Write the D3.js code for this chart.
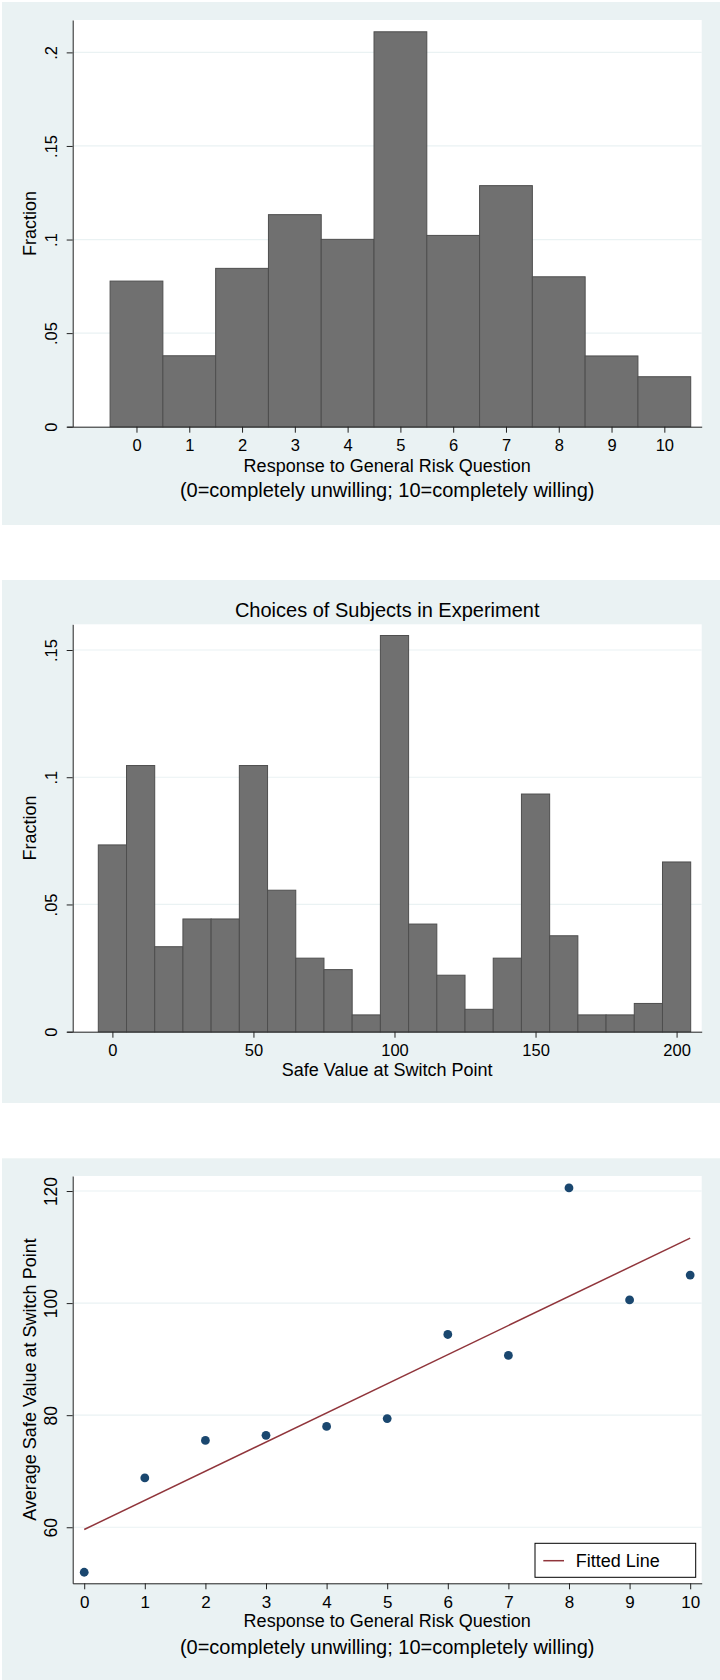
<!DOCTYPE html>
<html>
<head>
<meta charset="utf-8">
<script src="https://cdn.jsdelivr.net/npm/d3@7"></script>
<style>
  body { margin: 0; background: #fff; }
  svg { display: block; font-family: "Liberation Sans", Arial, Helvetica, sans-serif; }
</style>
</head>
<body>
<div id="chart"></div>
<script>
const riskValues = [0, 1, 2, 3, 4, 5, 6, 7, 8, 9, 10];
const riskFractions = [0.0778, 0.0379, 0.0846, 0.1133, 0.1001, 0.2110, 0.1022, 0.1288, 0.0801, 0.0378, 0.0267];

const safeBins = [0, 10, 20, 30, 40, 50, 60, 70, 80, 90, 100, 110, 120, 130, 140, 150, 160, 170, 180, 190, 200];
const safeFractions = [0.0734, 0.1046, 0.0334, 0.0443, 0.0443, 0.1046, 0.0556, 0.0289, 0.0244, 0.0066, 0.1557,
    0.0423, 0.0222, 0.0088, 0.0289, 0.0934, 0.0377, 0.0066, 0.0066, 0.0111, 0.0667];

const avgSafeValues = [51.97, 68.8, 75.5, 76.4, 78.0, 79.4, 94.4, 90.66, 120.56, 100.56, 105.0];
const fittedX = [0, 10];
const fittedY = [59.6, 111.6];

const fracTicks1 = [0, 0.05, 0.1, 0.15, 0.2];
const fracLabels1 = ["0", ".05", ".1", ".15", ".2"];
const fracTicks2 = [0, 0.05, 0.1, 0.15];
const fracLabels2 = ["0", ".05", ".1", ".15"];
const safeTicks = [0, 50, 100, 150, 200];
const avgTicks = [60, 80, 100, 120];

const riskTitle = "Response to General Risk Question";
const riskNote = "(0=completely unwilling; 10=completely willing)";

const width = 720;
const height = 1680;
const bg = "#eaf2f3";
const barFill = "#707070";
const barStroke = "#4e4e4e";
const axisColor = "#222";

const svg = d3.select("#chart")
    .append("svg")
    .attr("width", width)
    .attr("height", height);

function panel(y0, y1) {
    svg.append("rect")
        .attr("x", 2).attr("y", y0)
        .attr("width", width - 2).attr("height", y1 - y0)
        .attr("fill", bg);
}

function plotArea(xLeft, xRight, yTop, yBottom) {
    svg.append("rect")
        .attr("x", xLeft).attr("y", yTop)
        .attr("width", xRight - xLeft).attr("height", yBottom - yTop)
        .attr("fill", "#fff");
}

function gridLines(yScale, ticks, xLeft, xRight) {
    svg.append("g")
        .selectAll("line")
        .data(ticks.filter((d) => d !== yScale.domain()[0]))
        .enter()
        .append("line")
        .attr("x1", xLeft).attr("x2", xRight)
        .attr("y1", (d) => yScale(d)).attr("y2", (d) => yScale(d))
        .attr("stroke", bg)
        .attr("stroke-width", 1.2);
}

function leftAxis(yScale, ticks, labels, xPos, fontSize) {
    const g = svg.append("g")
        .attr("transform", `translate(${xPos},0)`)
        .call(d3.axisLeft(yScale).tickValues(ticks).tickFormat((d, i) => labels[i]).tickSize(6).tickSizeOuter(0));
    g.select(".domain").attr("stroke", axisColor);
    g.selectAll(".tick line").attr("stroke", axisColor);
    g.selectAll(".tick text")
        .attr("transform", "rotate(-90)")
        .attr("x", 0)
        .attr("y", -21.7)
        .attr("dy", "0.35em")
        .attr("text-anchor", "middle")
        .attr("fill", "#000")
        .style("font-size", fontSize + "px")
        .style("font-family", "inherit");
}

function bottomAxis(xScale, ticks, labels, yPos, fontSize) {
    const g = svg.append("g")
        .attr("transform", `translate(0,${yPos})`)
        .call(d3.axisBottom(xScale).tickValues(ticks).tickFormat((d, i) => labels[i]).tickSize(6).tickSizeOuter(0));
    g.select(".domain").attr("stroke", axisColor);
    g.selectAll(".tick line").attr("stroke", axisColor);
    g.selectAll(".tick text")
        .attr("y", 0)
        .attr("dy", 0)
        .attr("transform", "translate(0,24.5)")
        .attr("fill", "#000")
        .style("font-size", fontSize + "px")
        .style("font-family", "inherit");
}

function label(x, y, text, size, rotate) {
    svg.append("text")
        .attr("transform", rotate ? `translate(${x},${y}) rotate(-90)` : `translate(${x},${y})`)
        .attr("dy", rotate ? "0.35em" : 0)
        .attr("text-anchor", "middle")
        .style("font-size", size + "px")
        .text(text);
}

// panel 1: risk question histogram
panel(2, 525);
plotArea(73, 701.7, 20, 426.7);

const x1 = d3.scaleLinear().domain([-1.322, 10.708]).range([66.7, 701.7]);
const y1 = d3.scaleLinear().domain([0, 0.2173]).range([426.7, 20]);

gridLines(y1, fracTicks1, 73, 701.7);

svg.append("g")
    .selectAll("rect")
    .data(riskValues)
    .enter()
    .append("rect")
    .attr("x", (d) => x1(d - 0.5))
    .attr("y", (d, i) => y1(riskFractions[i]))
    .attr("width", (d) => x1(d + 0.5) - x1(d - 0.5))
    .attr("height", (d, i) => y1(0) - y1(riskFractions[i]))
    .attr("fill", barFill)
    .attr("stroke", barStroke)
    .attr("stroke-width", 1);

leftAxis(y1, fracTicks1, fracLabels1, 72.7, 16.5);
bottomAxis(x1, riskValues, riskValues.map(String), 426.7, 16.5);
label(30, 223.4, "Fraction", 18, true);
label(387.2, 471.5, riskTitle, 18);
label(387.2, 497, riskNote, 20);

// panel 2: switch point histogram
panel(580, 1103);
svg.append("text")
    .attr("x", 387.2).attr("y", 617)
    .attr("text-anchor", "middle")
    .style("font-size", "20px")
    .text("Choices of Subjects in Experiment");
plotArea(73, 701.7, 624.3, 1031.7);

const x2 = d3.scaleLinear().domain([-16.2, 208.9]).range([66.7, 701.7]);
const y2 = d3.scaleLinear().domain([0, 0.1601]).range([1031.7, 624.3]);

gridLines(y2, fracTicks2, 73, 701.7);

svg.append("g")
    .selectAll("rect")
    .data(safeBins)
    .enter()
    .append("rect")
    .attr("x", (d) => x2(d - 5))
    .attr("y", (d, i) => y2(safeFractions[i]))
    .attr("width", (d) => x2(d + 5) - x2(d - 5))
    .attr("height", (d, i) => y2(0) - y2(safeFractions[i]))
    .attr("fill", barFill)
    .attr("stroke", barStroke)
    .attr("stroke-width", 1);

leftAxis(y2, fracTicks2, fracLabels2, 72.7, 16.5);
bottomAxis(x2, safeTicks, safeTicks.map(String), 1031.7, 16.5);
label(30, 828, "Fraction", 18, true);
label(387.2, 1075.5, "Safe Value at Switch Point", 18);

// panel 3: average safe value by risk answer
panel(1158.3, 1680);
plotArea(73, 701.7, 1176, 1583.3);

const x3 = d3.scaleLinear().domain([-0.19, 10.19]).range([72.7, 701.7]);
const y3 = d3.scaleLinear().domain([50, 122.68]).range([1583.3, 1176]);

gridLines(y3, avgTicks, 73, 701.7);

svg.append("line")
    .attr("x1", x3(fittedX[0])).attr("y1", y3(fittedY[0]))
    .attr("x2", x3(fittedX[1])).attr("y2", y3(fittedY[1]))
    .attr("stroke", "#90353b")
    .attr("stroke-width", 1.5);

svg.append("g")
    .selectAll("circle")
    .data(riskValues)
    .enter()
    .append("circle")
    .attr("cx", (d) => x3(d))
    .attr("cy", (d, i) => y3(avgSafeValues[i]))
    .attr("r", 4.4)
    .attr("fill", "#1a476f");

leftAxis(y3, avgTicks, avgTicks.map(String), 72.7, 17.5);
bottomAxis(x3, riskValues, riskValues.map(String), 1583.3, 17);
label(30, 1379.6, "Average Safe Value at Switch Point", 18, true);
label(387.2, 1626.5, riskTitle, 18);
label(387.2, 1653.5, riskNote, 20);

const legend = svg.append("g").attr("transform", "translate(535,1543.3)");
legend.append("rect")
    .attr("width", 160.7).attr("height", 34)
    .attr("fill", "#fff")
    .attr("stroke", "#000")
    .attr("stroke-width", 1);
legend.append("line")
    .attr("x1", 8.3).attr("x2", 29)
    .attr("y1", 17.4).attr("y2", 17.4)
    .attr("stroke", "#90353b")
    .attr("stroke-width", 1.5);
legend.append("text")
    .attr("x", 40.7).attr("y", 23.6)
    .style("font-size", "18px")
    .text("Fitted Line");
</script>
</body>
</html>
